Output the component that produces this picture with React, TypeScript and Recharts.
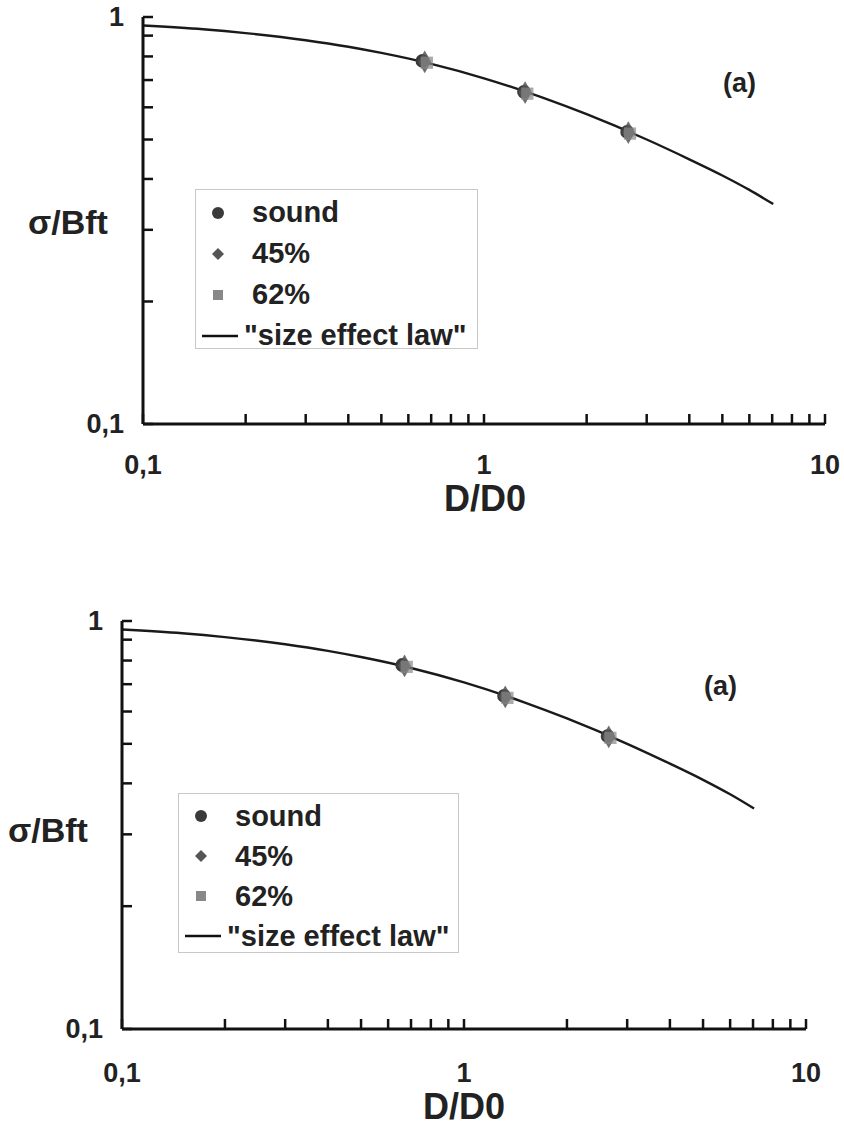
import {
  ComposedChart,
  Line,
  Scatter,
  XAxis,
  YAxis,
  ZAxis,
  Legend,
} from "recharts";

// size effect law curve
const lawX = [0.1, 0.15, 0.2, 0.3, 0.4, 0.5, 0.7, 1, 1.5, 2, 3, 4, 5, 6, 7.05];
const lawY = [0.953, 0.933, 0.913, 0.877, 0.845, 0.816, 0.767, 0.707, 0.632, 0.577, 0.5, 0.447, 0.408, 0.376, 0.347];

// measured points (the three series sit on top of each other)
const soundX = [0.66, 1.31, 2.63];
const soundY = [0.78, 0.655, 0.522];
const p45X = [0.67, 1.32, 2.65];
const p45Y = [0.776, 0.652, 0.52];
const p62X = [0.68, 1.34, 2.68];
const p62Y = [0.772, 0.648, 0.517];

const xTicks = [0.1, 0.2, 0.3, 0.4, 0.5, 0.6, 0.7, 0.8, 0.9, 1, 2, 3, 4, 5, 6, 7, 8, 9, 10];
const yTicks = [0.1, 0.2, 0.3, 0.4, 0.5, 0.6, 0.7, 0.8, 0.9, 1];
const tickLabels: Record<string, string> = { "0.1": "0,1", "1": "1", "10": "10" };

const legendItems = [
  { name: "sound", shape: "circle", color: "#3a3a3a" },
  { name: "45%", shape: "diamond", color: "#555" },
  { name: "62%", shape: "square", color: "#888" },
  { name: '"size effect law"', shape: "line", color: "#111" },
];

const zip = (xs: number[], ys: number[]) => xs.map((x, i) => ({ x, y: ys[i] }));
const lawData = zip(lawX, lawY);
const soundData = zip(soundX, soundY);
const p45Data = zip(p45X, p45Y);
const p62Data = zip(p62X, p62Y);

const FONT = '"Liberation Sans", Arial, sans-serif';

type Geo = {
  top: number;
  height: number;
  plotLeft: number;
  plotRight: number;
  plotTop: number;
  plotBottom: number;
  legend: { left: number; top: number; width: number; height: number; rowH: number };
  tag: { left: number; top: number };
  yTitle: { left: number; top: number };
  xTitle: { center: number; top: number };
  xLabelOff: number;
};

const XTick = ({ x, y, payload, off }: any) => {
  const label = tickLabels[String(payload.value)];
  return (
    <g>
      <line x1={x} y1={y} x2={x} y2={y - 10} stroke="#111" strokeWidth={2.5} />
      {label && (
        <text x={x} y={y + off} textAnchor="middle" dominantBaseline="central"
          fontFamily={FONT} fontWeight="bold" fontSize={27} fill="#222">
          {label}
        </text>
      )}
    </g>
  );
};

const YTick = ({ x, y, payload }: any) => {
  const label = tickLabels[String(payload.value)];
  return (
    <g>
      <line x1={x} y1={y} x2={x + 10} y2={y} stroke="#111" strokeWidth={2.5} />
      {label && (
        <text x={x - 19} y={y} textAnchor="end" dominantBaseline="central"
          fontFamily={FONT} fontWeight="bold" fontSize={27} fill="#222">
          {label}
        </text>
      )}
    </g>
  );
};

const Marker = ({ shape, color }: { shape: string; color: string }) => {
  if (shape === "circle") return <circle cx={12} cy={10} r={6} fill={color} />;
  if (shape === "diamond") return <path d="M12 4 L18 10 L12 16 L6 10 Z" fill={color} />;
  if (shape === "square") return <rect x={7} y={5} width={10} height={10} fill={color} />;
  return <line x1={0} y1={10} x2={36} y2={10} stroke={color} strokeWidth={2.5} />;
};

const LegendBox = ({ rowH }: { rowH: number }) => (
  <div
    style={{
      border: "1.5px solid #c8c8c8",
      background: "#fff",
      boxSizing: "border-box",
      height: "100%",
      padding: "2px 0 0 6px",
    }}
  >
    {legendItems.map((it) => (
      <div key={it.name} style={{ display: "flex", alignItems: "center", height: rowH }}>
        <svg width={40} height={20} style={{ marginLeft: it.shape === "line" ? 0 : 4 }}>
          <Marker shape={it.shape} color={it.color} />
        </svg>
        <span
          style={{
            fontFamily: FONT,
            fontWeight: "bold",
            fontSize: 29,
            color: "#222",
            marginLeft: it.shape === "line" ? 2 : 6,
            whiteSpace: "nowrap",
          }}
        >
          {it.name}
        </span>
      </div>
    ))}
  </div>
);

function Panel({ g }: { g: Geo }) {
  const W = 844;
  const yAxisW = 60;
  const xAxisH = 60;
  return (
    <div style={{ position: "absolute", left: 0, top: g.top, width: W, height: g.height }}>
      <ComposedChart
        width={W}
        height={g.height}
        margin={{
          top: g.plotTop,
          left: g.plotLeft - yAxisW,
          right: W - g.plotRight,
          bottom: g.height - g.plotBottom - xAxisH,
        }}
      >
        <XAxis
          dataKey="x"
          type="number"
          scale="log"
          domain={[0.1, 10]}
          allowDataOverflow
          ticks={xTicks}
          interval={0}
          height={xAxisH}
          tickSize={0}
          tickMargin={0}
          tickLine={false}
          axisLine={{ stroke: "#111", strokeWidth: 3 }}
          tick={<XTick off={g.xLabelOff} />}
        />
        <YAxis
          dataKey="y"
          type="number"
          scale="log"
          domain={[0.1, 1]}
          allowDataOverflow
          ticks={yTicks}
          interval={0}
          width={yAxisW}
          tickSize={0}
          tickMargin={0}
          tickLine={false}
          axisLine={{ stroke: "#111", strokeWidth: 3 }}
          tick={<YTick />}
        />
        <ZAxis type="number" range={[150, 150]} />
        <Legend
          layout="vertical"
          align="center"
          verticalAlign="middle"
          wrapperStyle={{
            left: g.legend.left,
            top: g.legend.top,
            width: g.legend.width,
            height: g.legend.height,
          }}
          content={() => <LegendBox rowH={g.legend.rowH} />}
        />
        <Line
          data={lawData}
          dataKey="y"
          type="monotone"
          stroke="#1a1a1a"
          strokeWidth={2.4}
          dot={false}
          isAnimationActive={false}
          legendType="none"
        />
        <Scatter data={soundData} dataKey="y" name="sound" shape="circle" fill="#3a3a3a" isAnimationActive={false} />
        <Scatter data={p45Data} dataKey="y" name="45%" shape="diamond" fill="#555" fillOpacity={0.85} isAnimationActive={false} />
        <Scatter data={p62Data} dataKey="y" name="62%" shape="square" fill="#888" fillOpacity={0.7} isAnimationActive={false} />
      </ComposedChart>
      <div style={{ position: "absolute", left: g.tag.left, top: g.tag.top, fontFamily: FONT, fontWeight: "bold", fontSize: 27, color: "#222" }}>
        (a)
      </div>
      <div style={{ position: "absolute", left: g.yTitle.left, top: g.yTitle.top, fontFamily: FONT, fontWeight: "bold", fontSize: 34, color: "#222", whiteSpace: "nowrap" }}>
        σ/Bft
      </div>
      <div style={{ position: "absolute", left: g.xTitle.center - 100, width: 200, textAlign: "center", top: g.xTitle.top, fontFamily: FONT, fontWeight: "bold", fontSize: 36, color: "#222" }}>
        D/D0
      </div>
    </div>
  );
}

const topGeo: Geo = {
  top: 0,
  height: 560,
  plotLeft: 143,
  plotRight: 825,
  plotTop: 17,
  plotBottom: 424,
  legend: { left: 195, top: 189, width: 283, height: 160, rowH: 41 },
  tag: { left: 723, top: 68 },
  yTitle: { left: 28, top: 203 },
  xTitle: { center: 485, top: 478 },
  xLabelOff: 41,
};

const bottomGeo: Geo = {
  top: 600,
  height: 533,
  plotLeft: 122,
  plotRight: 806,
  plotTop: 21,
  plotBottom: 429,
  legend: { left: 178, top: 193, width: 281, height: 160, rowH: 40 },
  tag: { left: 704, top: 71 },
  yTitle: { left: 8, top: 211 },
  xTitle: { center: 464, top: 486 },
  xLabelOff: 44,
};

export default function App() {
  return (
    <div style={{ position: "absolute", left: 0, top: 0, width: 844, height: 1133, background: "#fff" }}>
      <Panel g={topGeo} />
      <Panel g={bottomGeo} />
    </div>
  );
}
